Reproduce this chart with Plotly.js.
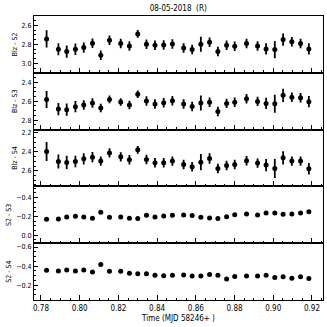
<!DOCTYPE html>
<html>
<head>
<meta charset="utf-8">
<script src="https://cdn.plot.ly/plotly-3.0.1.min.js"></script>
<style>
  html, body { margin: 0; padding: 0; background: #fff; }
  #chart { width: 327px; height: 327px; }
</style>
</head>
<body>
<div id="chart"></div>
<script>
// Time (MJD 58246+)
const time = [
  0.7829, 0.789, 0.7933, 0.7978, 0.8021, 0.8066, 0.8109, 0.8154, 0.8212, 0.8257,
  0.83, 0.8345, 0.8389, 0.8434, 0.8479, 0.8537, 0.8581, 0.8626, 0.8671, 0.8714,
  0.8759, 0.8801, 0.8862, 0.8919, 0.8963, 0.9008, 0.9051, 0.9096, 0.9141, 0.9184,
];

const blzS2 = [
  2.742, 2.851, 2.876, 2.851, 2.834, 2.788, 2.915, 2.756, 2.791, 2.816,
  2.689, 2.798, 2.809, 2.806, 2.795, 2.837, 2.855, 2.798, 2.777, 2.876,
  2.809, 2.82, 2.791, 2.816, 2.848, 2.855, 2.749, 2.773, 2.791, 2.848,
];
const blzS2Err = [
  0.092, 0.064, 0.064, 0.06, 0.055, 0.05, 0.05, 0.05, 0.05, 0.05,
  0.04, 0.05, 0.05, 0.05, 0.05, 0.05, 0.05, 0.08, 0.05, 0.05,
  0.05, 0.05, 0.05, 0.05, 0.06, 0.09, 0.065, 0.05, 0.05, 0.06,
];

const blzS3 = [
  2.581, 2.683, 2.69, 2.658, 2.641, 2.619, 2.673, 2.581, 2.609, 2.641,
  2.527, 2.598, 2.63, 2.616, 2.595, 2.63, 2.655, 2.619, 2.612, 2.708,
  2.623, 2.612, 2.573, 2.602, 2.623, 2.627, 2.538, 2.559, 2.563, 2.605,
];
const blzS3Err = [
  0.09, 0.065, 0.065, 0.06, 0.05, 0.05, 0.045, 0.04, 0.04, 0.045,
  0.04, 0.05, 0.05, 0.05, 0.05, 0.05, 0.05, 0.08, 0.05, 0.05,
  0.05, 0.05, 0.05, 0.05, 0.06, 0.095, 0.07, 0.05, 0.05, 0.06,
];

const blzS4 = [
  2.396, 2.502, 2.512, 2.502, 2.474, 2.456, 2.498, 2.411, 2.453, 2.484,
  2.379, 2.481, 2.516, 2.516, 2.498, 2.533, 2.558, 2.509, 2.47, 2.575,
  2.544, 2.533, 2.495, 2.519, 2.54, 2.575, 2.463, 2.498, 2.498, 2.579,
];
const blzS4Err = [
  0.1, 0.075, 0.07, 0.06, 0.06, 0.055, 0.05, 0.05, 0.05, 0.05,
  0.04, 0.05, 0.05, 0.05, 0.05, 0.05, 0.05, 0.085, 0.055, 0.05,
  0.05, 0.05, 0.05, 0.05, 0.065, 0.1, 0.07, 0.05, 0.05, 0.06,
];

const s2s3 = [
  -0.17, -0.173, -0.195, -0.202, -0.195, -0.181, -0.244, -0.191, -0.195, -0.181,
  -0.177, -0.212, -0.195, -0.205, -0.212, -0.216, -0.209, -0.191, -0.184, -0.177,
  -0.198, -0.219, -0.227, -0.216, -0.237, -0.237, -0.223, -0.227, -0.237, -0.251,
];

const s2s4 = [
  -0.356, -0.349, -0.359, -0.349, -0.359, -0.338, -0.416, -0.345, -0.345, -0.324,
  -0.32, -0.32, -0.303, -0.299, -0.303, -0.306, -0.296, -0.296, -0.313, -0.303,
  -0.264, -0.292, -0.296, -0.296, -0.303, -0.281, -0.288, -0.274, -0.288, -0.271,
];

const panels = [
  { y: blzS2, err: blzS2Err, title: "Blz - S2", range: [3.1, 2.5] },
  { y: blzS3, err: blzS3Err, title: "Blz - S3", range: [2.9, 2.3] },
  { y: blzS4, err: blzS4Err, title: "Blz - S4", range: [2.765, 2.165] },
  { y: s2s3, err: null, title: "S2 - S3", range: [0.085, -0.52] },
  { y: s2s4, err: null, title: "S2 - S4", range: [-0.045, -0.64] },
];

const font = "DejaVu Sans Condensed, Liberation Sans Narrow, sans-serif";
const traces = [];
const layout = {
  width: 327,
  height: 327,
  margin: { l: 34, r: 4, t: 16, b: 27 },
  paper_bgcolor: "#fff",
  plot_bgcolor: "#fff",
  showlegend: false,
  font: { family: font, size: 8, color: "#000" },
  title: {
    text: "08-05-2018  (R)",
    x: 0.545,
    xanchor: "center",
    y: 0.975,
    yanchor: "middle",
    font: { size: 8, color: "#000" },
  },
};

panels.forEach((p, i) => {
  const k = i + 1;
  const suf = k === 1 ? "" : k;
  const tr = {
    x: time,
    y: p.y,
    type: "scatter",
    mode: "markers",
    xaxis: "x" + suf,
    yaxis: "y" + suf,
    marker: { color: "#000", size: 5 },
  };
  if (p.err) {
    tr.error_y = {
      type: "data",
      array: p.err,
      visible: true,
      color: "#000",
      thickness: 1.8,
      width: 0,
    };
  }
  traces.push(tr);

  const top = 1 - i * 0.2;
  const bottom = 1 - (i + 1) * 0.2;
  const last = i === panels.length - 1;
  layout["xaxis" + suf] = {
    domain: [0, 1],
    anchor: "y" + suf,
    range: [0.7764, 0.9257],
    tick0: 0.78,
    dtick: 0.02,
    ticks: "inside",
    ticklen: 5,
    tickcolor: "#000",
    minor: { dtick: 0.005, ticks: "inside", ticklen: 2.5, tickcolor: "#000" },
    showticklabels: last,
    tickformat: ".2f",
    tickfont: { size: 8 },
    showgrid: false,
    zeroline: false,
    showline: true,
    mirror: true,
    linecolor: "#000",
    linewidth: 1,
    title: last
      ? { text: "Time (MJD 58246+ )", font: { size: 8 }, standoff: 3 }
      : { text: "" },
  };
  if (k > 1) layout["xaxis" + suf].matches = "x";
  layout["yaxis" + suf] = {
    domain: [bottom, top],
    anchor: "x" + suf,
    range: p.range,
    dtick: 0.2,
    tick0: 0,
    tickformat: ".1f",
    ticks: "inside",
    ticklen: 4,
    tickcolor: "#000",
    minor: { dtick: 0.05, ticks: "inside", ticklen: 2, tickcolor: "#000" },
    tickfont: { size: 7 },
    showgrid: false,
    zeroline: false,
    showline: true,
    mirror: true,
    linecolor: "#000",
    linewidth: 1,
    title: { text: p.title, font: { size: 7 }, standoff: 3 },
  };
});

Plotly.newPlot("chart", traces, layout, { staticPlot: true });
</script>
</body>
</html>
